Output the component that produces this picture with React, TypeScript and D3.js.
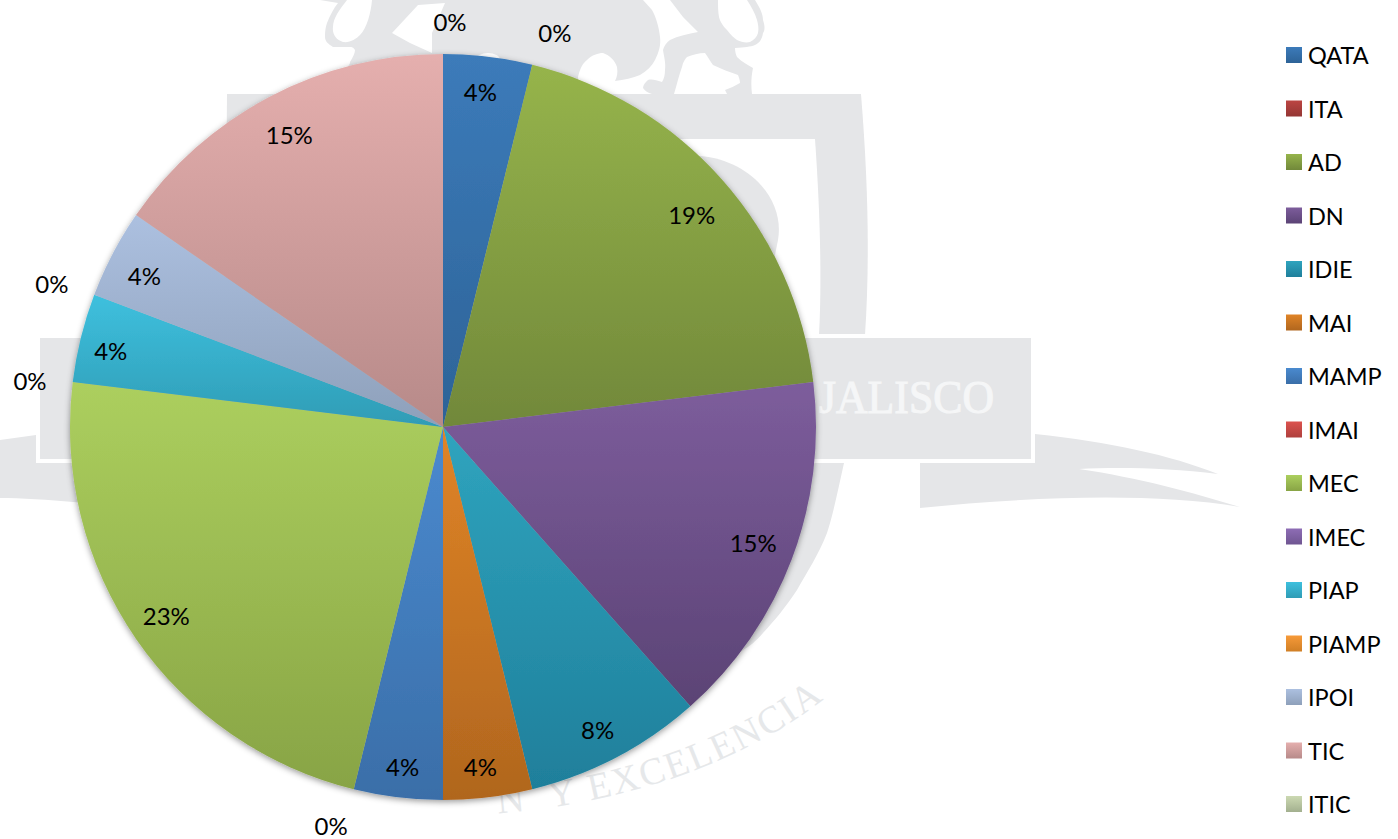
import React from "react";
import * as d3 from "d3";

const categories = ["QATA","ITA","AD","DN","IDIE","MAI","MAMP","IMAI","MEC","IMEC","PIAP","PIAMP","IPOI","TIC","ITIC"];
const counts = [1,0,5,4,2,1,1,0,6,0,1,0,1,4,0];
const topColors = ["#3C7BBA","#BC4542","#96B44B","#7D5D9C","#2FA4BE","#E08427","#4A8ACF","#DC524E","#ACCF5E","#8E6DB5","#3EC0DE","#F79A39","#ACC0E0","#E5AFAE","#CCD9B2"];
const bottomColors = ["#2D6397","#943634","#71883A","#5B4375","#1F7F9B","#B0661E","#3A6EA8","#AF403D","#88A445","#6F5591","#2F9CB5","#D07F25","#8EA0BA","#B78A89","#A3B08F"];

const W = 1398, H = 839;
const CX = 443, CY = 427, R = 373;
const INNER_LABEL_R = 335, ZERO_LABEL_R = 413;
const GREY = "#e5e6e8";
const FONT = "Lato, 'Noto Sans', sans-serif";
const labelNudge: Record<string, [number, number]> = {
  QATA: [-3, -3], ITA: [13, 6], AD: [-2, 10], DN: [-3, -3], IDIE: [-1, 6], MAI: [-3, 7], MAMP: [0, 7],
  IMAI: [-13, -2], MEC: [-1, -2], IMEC: [-3, 3], PIAP: [-7, 4], PIAMP: [-5, 3], IPOI: [-2, 4], TIC: [2, 4], ITIC: [7, 7],
};

const Watermark = () => (
  <g>
    {/* left and right banner tails */}
    <path fill={GREY} d="M0,440 L36,435 V463 H200 V510 L73,502 C50,500 20,498 0,498 Z" />
    <path fill={GREY} d="M920,463 H1035 V434 C1110,442 1170,455 1218,474 C1170,468 1120,467 1079,469 C1140,478 1190,492 1240,507 C1150,492 1030,497 920,508 Z" />
    {/* lion crest */}
    <path fill={GREY} d="M320,0 H347 C340,9 333,18 333,27 C332,34 336,40 343,42 C350,43 356,39 360,35 C367,28 371,12 372,0 H755 C760,8 763,14 763,20 C765,26 765,30 763,33 C762,40 759,43 755,45 C750,47 745,47 735,48 C735,52 736,55 737,57 C742,62 748,65 753,68 C751,78 751,86 752,94 H335 L343,73 C347,68 350,65 350,62 C353,57 355,53 355,50 C353,47 352,47 350,47 L333,47 C328,44 325,41 325,37 C325,30 326,26 327,23 C330,15 334,8 338,3 Z" />
    <path fill="#fff" d="M418,5 L445,3 L432,33 L432,53 L410,43 L392,33 Z" />
    <path fill="#fff" d="M643,0 H670 L683,17 L698,32 C688,34 678,36 670,40 C666,43 664,46 663,50 C664,57 666,63 665,70 C665,75 664,79 662,82 C656,80 652,79 648,80 C645,83 643,85 643,88 C645,91 648,93 652,94 H578 V77 C580,68 583,63 587,60 C592,55 598,53 603,53 C609,55 615,60 617,67 C618,73 617,77 615,81 C624,80 633,78 640,75 C647,71 652,66 655,60 C659,52 661,45 660,37 C659,27 656,17 652,10 Z" />
    <path fill="#fff" d="M718,0 C718,6 718,12 719,17 C720,22 724,27 727,30 C731,35 734,38 737,40 C741,42 746,43 750,42 C754,40 757,37 758,33 C759,28 758,24 757,20 C755,13 751,6 747,0 Z" />
    <path fill="#fff" d="M674,94 C677,84 679,75 682,67 C683,62 685,59 687,57 C692,55 699,53 705,53 C708,57 710,61 713,65 C721,69 730,72 738,75 C739,78 740,80 740,83 C735,86 730,88 725,90 L727,94 Z" />
    <ellipse cx={488} cy={60} rx={12} ry={7} fill="#fff" />
    {/* shield */}
    <path fill={GREY} d="M227,94 L861,94 C868,180 870,260 865,335 H225 Z" />
    <path fill="#fff" d="M275,139 H815 C820,210 822,280 819,335 H275 Z" />
    <path fill={GREY} d="M620,156 L700,156 C750,160 785,200 778,240 L772,270 L620,290 Z" />
    <path fill={GREY} d="M300,463 H844 C838,490 833,515 827,533 C818,556 808,570 797,590 C785,608 775,620 763,633 C755,642 750,646 743,650 L600,760 Z" />
    {/* banner */}
    <rect x={36} y={334} width={999} height={129} fill="#fff" />
    <rect x={40} y={338} width={991} height={121} fill={GREY} />
    <text x={819} y={413} fill="#f5f6f7" stroke="#f5f6f7" strokeWidth={1.1} fontFamily="'Liberation Serif', serif" fontSize={47} textLength={175} lengthAdjust="spacingAndGlyphs">JALISCO</text>
    {/* motto */}
    <path id="motto" d="M470,815 C600,810 740,770 835,690" fill="none" />
    <text fill="#e6e8ea" fontFamily="'Liberation Serif', serif" fontSize={38} letterSpacing={2}>
      <textPath href="#motto" startOffset={28}>{"N\u00A0\u00A0Y\u00A0EXCELENCIA"}</textPath>
    </text>
  </g>
);

export default function App() {
  const total = d3.sum(counts);
  const pct = d3.format(".0%");
  const slices = d3.pie<number>().sort(null).startAngle(0).endAngle(2 * Math.PI)(counts);
  const arc = d3.arc<d3.PieArcDatum<number>>().innerRadius(0).outerRadius(R);
  const inLabel = d3.arc<d3.PieArcDatum<number>>().innerRadius(INNER_LABEL_R).outerRadius(INNER_LABEL_R);
  const outLabel = d3.arc<d3.PieArcDatum<number>>().innerRadius(ZERO_LABEL_R).outerRadius(ZERO_LABEL_R);
  const legendY = d3.scalePoint<string>().domain(categories).range([55, 804]);

  return (
    <svg width={W} height={H} viewBox={`0 0 ${W} ${H}`} style={{ position: "absolute", left: 0, top: 0, display: "block", background: "#fff" }}>
      <defs>
        {categories.map((c, i) => (
          <linearGradient key={c} id={`g${i}`} x1="0" y1="0" x2="0" y2="1">
            <stop offset="0" stopColor={topColors[i]} />
            <stop offset="1" stopColor={bottomColors[i]} />
          </linearGradient>
        ))}
        <filter id="pieShadow" x="-5%" y="-5%" width="110%" height="110%">
          <feDropShadow dx="0" dy="2" stdDeviation="3" floodColor="#000" floodOpacity="0.4" />
        </filter>
      </defs>
      <Watermark />
      <g transform={`translate(${CX},${CY})`}>
        <g filter="url(#pieShadow)">
          {slices.filter(s => s.value > 0).map(s => (
            <path key={s.index} d={arc(s) as string} fill={`url(#g${s.index})`} />
          ))}
        </g>
        {slices.map(s => {
          const name = categories[s.index];
          const base = s.value > 0 ? inLabel.centroid(s) : outLabel.centroid(s);
          const nudge = labelNudge[name] ?? [0, 0];
          return (
            <text key={s.index} x={base[0] + nudge[0]} y={base[1] + nudge[1]} textAnchor="middle" dominantBaseline="central" fontFamily={FONT} fontSize={24} fill="#000">
              {pct(s.value / total)}
            </text>
          );
        })}
      </g>
      <g>
        {categories.map((c, i) => (
          <g key={c}>
            <rect x={1286} y={(legendY(c) as number) - 8} width={16} height={16} fill={`url(#g${i})`} />
            <text x={1308} y={legendY(c) as number} dominantBaseline="central" fontFamily={FONT} fontSize={23.5} fill="#000">{c}</text>
          </g>
        ))}
      </g>
    </svg>
  );
}
